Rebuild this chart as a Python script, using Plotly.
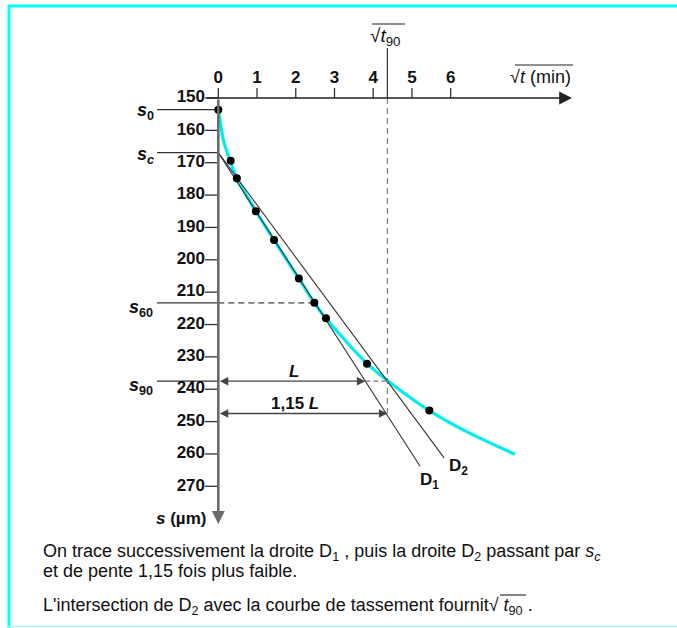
import plotly.graph_objects as go

# Settlement readings: square root of time (min^0.5) and settlement s (µm)
sqrt_t_obs = [0.0, 0.32, 0.48, 0.97, 1.44, 2.08, 2.48, 2.78, 3.84, 5.45]
s_obs = [153.6, 169.4, 174.8, 185.0, 193.9, 205.8, 213.3, 218.1, 232.1, 246.6]

# Smoothed settlement curve through the readings
curve_sqrt_t = [0.0, 0.06, 0.13, 0.30, 0.48, 0.97, 1.44, 2.08, 2.48, 2.78,
                3.84, 4.39, 5.45, 6.41, 7.66]
curve_s = [153.6, 157.8, 163.0, 169.2, 174.8, 185.0, 193.9, 205.8, 213.3, 218.1,
           232.1, 237.5, 246.6, 253.1, 260.1]

x_ticks = [0, 1, 2, 3, 4, 5, 6]
y_ticks = [150, 160, 170, 180, 190, 200, 210, 220, 230, 240, 250, 260, 270]

# Construction values
s0 = s_obs[0]
s_c = 166.9          # corrected origin
s60 = s_obs[6]
s90 = 237.5
slope_d1 = 18.6      # µm per sqrt(min)
ratio = 1.15
slope_d2 = slope_d1 / ratio
L = (s90 - s_c) / slope_d1
sqrt_t90 = ratio * L
d1_end = 5.21
d2_end = 5.83
level_115L = 247.5

# Page geometry
W, H = 677, 628
X0PX, XUNIT = 218.3, 38.73
Y0PX, YUNIT = 98.0, 3.236


def dx(px):
    return (px - X0PX) / XUNIT


def dy(py):
    return 150 + (py - Y0PX) / YUNIT


def pxx(px):
    return px / W


def pyy(py):
    return 1 - py / H


DARK = "#333333"
CYAN = "#00EEEE"
FONT = "Liberation Sans"
INK = "#111111"

fig = go.Figure()

# settlement curve
fig.add_trace(go.Scatter(x=curve_sqrt_t, y=curve_s, mode="lines",
                         line=dict(color=CYAN, width=3.2, shape="spline", smoothing=0.8)))

# straight lines D1 and D2 from s_c
fig.add_trace(go.Scatter(x=[0, d1_end], y=[s_c, s_c + slope_d1 * d1_end], mode="lines",
                         line=dict(color=DARK, width=1.1)))
fig.add_trace(go.Scatter(x=[0, d2_end], y=[s_c, s_c + slope_d2 * d2_end], mode="lines",
                         line=dict(color=DARK, width=1.1)))

# reference levels left of the s axis
lev_x, lev_y = [], []
for lv in [s0, s_c, s60, s90]:
    lev_x += [dx(157), 0, None]
    lev_y += [lv, lv, None]
fig.add_trace(go.Scatter(x=lev_x, y=lev_y, mode="lines", line=dict(color=DARK, width=1.3)))

# dashed construction lines
fig.add_trace(go.Scatter(x=[0, sqrt_t_obs[6]], y=[s60, s60], mode="lines",
                         line=dict(color="#777777", width=1.6, dash="6px,4px")))
fig.add_trace(go.Scatter(x=[sqrt_t90, sqrt_t90], y=[150, level_115L], mode="lines",
                         line=dict(color="#777777", width=1.1, dash="6px,4px")))
fig.add_trace(go.Scatter(x=[L, sqrt_t90], y=[s90, s90], mode="lines",
                         line=dict(color="#777777", width=1.3, dash="5px,3px")))
fig.add_trace(go.Scatter(x=[sqrt_t90, sqrt_t90], y=[dy(48), 150], mode="lines",
                         line=dict(color=DARK, width=1.2)))

# tick marks
tx, ty = [], []
for v in x_ticks:
    tx += [v, v, None]
    ty += [150, 150 - 10 / YUNIT, None]
fig.add_trace(go.Scatter(x=tx, y=ty, mode="lines", line=dict(color=DARK, width=1.3)))
sx, sy = [], []
for v in y_ticks:
    sx += [dx(205), 0, None]
    sy += [v, v, None]
fig.add_trace(go.Scatter(x=sx, y=sy, mode="lines", line=dict(color=DARK, width=1.3)))

# readings
fig.add_trace(go.Scatter(x=sqrt_t_obs, y=s_obs, mode="markers",
                         marker=dict(color="black", size=8)))

# tick labels
fig.add_trace(go.Scatter(x=x_ticks, y=[dy(79)] * len(x_ticks), mode="text",
                         text=[str(v) for v in x_ticks], textposition="middle center",
                         textfont=dict(family=FONT, size=17, color=INK, weight="bold")))
fig.add_trace(go.Scatter(x=[dx(205)] * len(y_ticks), y=y_ticks, mode="text",
                         text=[str(v) for v in y_ticks], textposition="middle left",
                         textfont=dict(family=FONT, size=17, color=INK, weight="bold")))

ann = []
# horizontal axis with arrow
ann.append(dict(x=dx(572), y=150, ax=dx(205), ay=150, xref="x", yref="y", axref="x", ayref="y",
                showarrow=True, arrowhead=2, arrowsize=1.6, arrowwidth=1.6, arrowcolor="#222222", text=""))
# vertical axis with arrow
ann.append(dict(x=0, y=dy(524), ax=0, ay=150, xref="x", yref="y", axref="x", ayref="y",
                showarrow=True, arrowhead=2, arrowsize=1.0, arrowwidth=2.6, arrowcolor="#6a6a6a", text=""))
# L and 1,15 L dimension arrows
ann.append(dict(x=L, y=s90, ax=0, ay=s90, xref="x", yref="y", axref="x", ayref="y",
                showarrow=True, arrowhead=2, startarrowhead=2, arrowside="end+start",
                arrowsize=1.3, startarrowsize=1.3, arrowwidth=1.3, arrowcolor="#444444", text=""))
ann.append(dict(x=sqrt_t90, y=level_115L, ax=0, ay=level_115L, xref="x", yref="y", axref="x", ayref="y",
                showarrow=True, arrowhead=2, startarrowhead=2, arrowside="end+start",
                arrowsize=1.3, startarrowsize=1.3, arrowwidth=1.3, arrowcolor="#444444", text=""))


def label(text, x, y, size=15, xanchor="center"):
    ann.append(dict(x=pxx(x), y=pyy(y), xref="paper", yref="paper", text=text, showarrow=False,
                    xanchor=xanchor, yanchor="middle",
                    font=dict(family=FONT, size=size, color=INK)))


label("<b><i>s</i><sub>0</sub></b>", 145, 111, 18)
label("<b><i>s<sub>c</sub></i></b>", 145, 156, 18)
label("<b><i>s</i><sub>60</sub></b>", 141, 308, 18)
label("<b><i>s</i><sub>90</sub></b>", 141, 386, 18)
label("<b><i>L</i></b>", 294, 371, 17)
label("<b>1,15 <i>L</i></b>", 295, 403, 17)
label("<b>D<sub>1</sub></b>", 429, 481, 17)
label("<b>D<sub>2</sub></b>", 458, 467, 17)
label("<b><i>s</i> (µm)</b>", 181, 518, 17)
label("√<i>t</i> (min)", 540, 77, 18)
label("√<i>t</i><sub>90</sub>", 385, 37, 19)

# caption
label("On trace successivement la droite D<sub>1</sub> , puis la droite D<sub>2</sub> passant par <i>s<sub>c</sub></i>",
      41, 552, 18, "left")
label("et de pente 1,15 fois plus faible.", 41, 571, 18, "left")
label("L'intersection de D<sub>2</sub> avec la courbe de tassement fournit√ <i>t</i><sub>90</sub> .",
      41, 606, 18, "left")

shapes = []


def seg(x0, y0, x1, y1, color, width):
    shapes.append(dict(type="line", xref="paper", yref="paper", x0=pxx(x0), y0=pyy(y0),
                       x1=pxx(x1), y1=pyy(y1), line=dict(color=color, width=width)))


# radical overlines
seg(372, 24, 405, 24, "#222222", 1.2)
seg(515, 65, 573, 65, "#222222", 1.2)
seg(500, 595, 526, 595, "#222222", 1.1)

# page frame
seg(8, 6, 677, 6, "#00FFFF", 3)
seg(9, 6, 9, 628, "#00FFFF", 3)
seg(8, 626.5, 677, 626.5, "#B0F5F5", 1.5)

fig.update_layout(
    width=W, height=H, margin=dict(l=0, r=0, t=0, b=0),
    paper_bgcolor="white", plot_bgcolor="white", showlegend=False,
    xaxis=dict(range=[dx(0), dx(W)], visible=False, fixedrange=True),
    yaxis=dict(range=[dy(H), dy(0)], visible=False, fixedrange=True),
    annotations=ann, shapes=shapes,
)

fig.write_html("out.html")
